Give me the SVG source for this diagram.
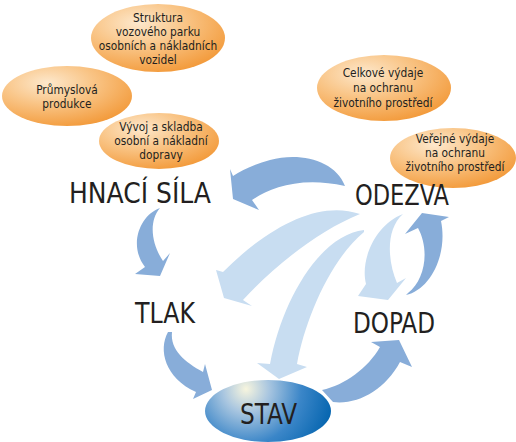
<svg xmlns="http://www.w3.org/2000/svg" width="516" height="442" viewBox="0 0 516 442">
<defs>
<radialGradient id="og" cx="0.35" cy="0.28" r="0.8">
<stop offset="0" stop-color="#fde8cc"/>
<stop offset="0.45" stop-color="#f9c485"/>
<stop offset="1" stop-color="#f29735"/>
</radialGradient>
<radialGradient id="bg" gradientUnits="userSpaceOnUse" cx="246" cy="389" r="92">
<stop offset="0" stop-color="#f7f5de"/>
<stop offset="0.25" stop-color="#a9c6e0"/>
<stop offset="0.6" stop-color="#3b86c8"/>
<stop offset="1" stop-color="#0062ad"/>
</radialGradient>
<style>
.bub{fill:url(#og)}
.s{font-family:"DejaVu Sans Condensed","DejaVu Sans","Liberation Sans",sans-serif;font-stretch:condensed;font-size:11.8px;fill:#231f20;text-anchor:middle}
.b{font-family:"DejaVu Sans Condensed","DejaVu Sans","Liberation Sans",sans-serif;font-stretch:condensed;font-size:29px;fill:#231f20}
.m{fill:#88add9}
.l{fill:#c8ddf1}
</style>
</defs>
<rect width="516" height="442" fill="#ffffff"/>

<g id="connectors">
<path class="l" d="M360,214 C320,200 270,225 223,272 L216,270 L224,298 L252,306 L243,300 C275,265 320,230 360,214 Z"/>
<path class="l" d="M364,230 C320,235 282,300 270,364 L257,363 L279,379 L307,367 L297,364 C305,320 330,260 364,232 Z"/>
<path class="l" d="M403,214 C375,225 360,260 366,284 L358,296 L388,300 L406,278 L397,283 C388,262 385,230 403,214 Z"/>
<path class="m" d="M345,186 C335,160 300,152 270,160 C255,164 242,170 233,176 L230,169 L233,199 L259,210 L252,200 C270,188 300,176 345,186 Z"/>
<path class="m" d="M160,208 C140,215 128,245 145,267 L135,274 L160,276 L170,253 L163,261 C152,245 148,222 160,208 Z"/>
<path class="m" d="M168,332 C158,350 165,378 196,392 L193,399 L212,390 L205,364 L203,372 C185,362 170,350 172,332 Z"/>
<path class="m" d="M322,390 C345,385 368,368 380,347 L371,342 L399,340 L412,367 L400,362 C385,390 358,405 333,402 Z"/>
<path class="m" d="M406,295 C430,290 448,255 441,221 L449,217 L422,213 L405,234 L418,228 C430,250 425,280 408,293 Z"/>
</g>

<g id="struktura">
<ellipse class="bub" cx="158" cy="38" rx="67" ry="34"/>
<text class="s" x="158" y="22">Struktura</text>
<text class="s" x="158" y="36">vozového parku</text>
<text class="s" x="158" y="50">osobních a nákladních</text>
<text class="s" x="158" y="64">vozidel</text>
</g>
<g id="prumyslova">
<ellipse class="bub" cx="67" cy="96" rx="65" ry="30"/>
<text class="s" x="67" y="94">Průmyslová</text>
<text class="s" x="67" y="108">produkce</text>
</g>
<g id="vyvoj">
<ellipse class="bub" cx="159" cy="141" rx="60" ry="28"/>
<text class="s" x="161" y="131">Vývoj a skladba</text>
<text class="s" x="161" y="145">osobní a nákladní</text>
<text class="s" x="161" y="159">dopravy</text>
</g>
<g id="celkove">
<ellipse class="bub" cx="384" cy="88" rx="67" ry="33"/>
<text class="s" x="383" y="77">Celkové výdaje</text>
<text class="s" x="383" y="92">na ochranu</text>
<text class="s" x="383" y="107">životního prostředí</text>
</g>
<g id="verejne">
<ellipse class="bub" cx="453" cy="158" rx="63" ry="30"/>
<text class="s" x="455" y="143">Veřejné výdaje</text>
<text class="s" x="455" y="157">na ochranu</text>
<text class="s" x="455" y="171">životního prostředí</text>
</g>

<g id="hnaci-sila"><text class="b" x="69" y="203" textLength="142" lengthAdjust="spacingAndGlyphs">HNACÍ SÍLA</text></g>
<g id="odezva"><text class="b" x="355" y="205" textLength="94" lengthAdjust="spacingAndGlyphs">ODEZVA</text></g>
<g id="tlak"><text class="b" x="135" y="323" textLength="60" lengthAdjust="spacingAndGlyphs">TLAK</text></g>
<g id="dopad"><text class="b" x="353" y="333" textLength="82" lengthAdjust="spacingAndGlyphs">DOPAD</text></g>
<g id="stav">
<ellipse cx="268" cy="411" rx="63" ry="31" fill="url(#bg)"/>
<text class="b" x="240" y="424" textLength="57" lengthAdjust="spacingAndGlyphs">STAV</text>
</g>
</svg>
